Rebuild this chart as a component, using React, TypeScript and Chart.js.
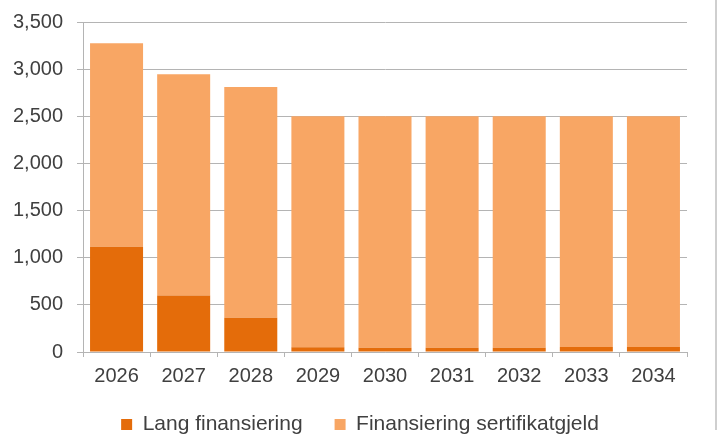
import React, { useEffect, useRef } from "react";
import { Chart, registerables } from "chart.js";

Chart.register(...registerables);

const categories = ["2026", "2027", "2028", "2029", "2030", "2031", "2032", "2033", "2034"];
const langFinansiering = [1117, 600, 364, 50, 46, 46, 46, 53, 53];
const sertifikatgjeld = [2157, 2345, 2446, 2450, 2454, 2454, 2454, 2447, 2447];
const seriesNames = ["Lang finansiering", "Finansiering sertifikatgjeld"];
const yMax = 3500;
const yStep = 500;

const FONT = "'Liberation Sans', Arial, sans-serif";
const TEXT = "#404040";
const GRID = "#b4b4b4";

export default function App() {
  const ref = useRef<HTMLCanvasElement | null>(null);

  useEffect(() => {
    if (!ref.current) return;
    const chart = new Chart(ref.current, {
      type: "bar",
      data: {
        labels: categories,
        datasets: [
          {
            label: seriesNames[0],
            data: langFinansiering,
            backgroundColor: "#E46C0A",
            borderWidth: 0,
            barPercentage: 0.79,
            categoryPercentage: 1,
          },
          {
            label: seriesNames[1],
            data: sertifikatgjeld,
            backgroundColor: "#F8A664",
            borderWidth: 0,
            barPercentage: 0.79,
            categoryPercentage: 1,
          },
        ],
      },
      options: {
        responsive: false,
        animation: false,
        devicePixelRatio: 1,
        layout: { padding: { top: 22, right: 0, left: 0, bottom: 0 } },
        plugins: {
          tooltip: { enabled: false },
          legend: {
            position: "bottom",
            labels: {
              boxWidth: 11,
              boxHeight: 11,
              padding: 32,
              color: TEXT,
              font: { family: FONT, size: 21 },
            },
          },
        },
        scales: {
          x: {
            stacked: true,
            grid: {
              drawOnChartArea: false,
              drawTicks: true,
              tickLength: 5,
              color: GRID,
            },
            border: { color: GRID, width: 1 },
            ticks: {
              color: TEXT,
              padding: 7,
              font: { family: FONT, size: 20 },
              maxRotation: 0,
            },
            afterFit: (s: any) => {
              s.height = 30;
            },
          },
          y: {
            stacked: true,
            min: 0,
            max: yMax,
            grid: { color: GRID, tickLength: 6, lineWidth: 1 },
            border: { color: GRID, width: 1 },
            ticks: {
              stepSize: yStep,
              color: TEXT,
              padding: 14,
              font: { family: FONT, size: 20 },
              callback: (v: any) => Number(v).toLocaleString("en-US"),
            },
            afterFit: (s: any) => {
              s.width = 83;
              s.paddingTop = 0;
              s.paddingBottom = 0;
            },
          },
          spacer: {
            position: "right",
            display: true,
            grid: { display: false, drawTicks: false },
            border: { display: false },
            ticks: { display: false },
            afterFit: (s: any) => {
              s.width = 33;
              s.paddingTop = 0;
              s.paddingBottom = 0;
            },
          },
        },
      },
    });
    return () => chart.destroy();
  }, []);

  return (
    <div
      style={{
        position: "absolute",
        left: 0,
        top: 0,
        width: 720,
        height: 434,
        overflow: "hidden",
        background: "#fff",
      }}
    >
      <canvas ref={ref} width={720} height={445} style={{ display: "block" }} />
      <div
        style={{
          position: "absolute",
          left: 715,
          top: 0,
          width: 2,
          height: 430,
          background: "#cfcfcf",
        }}
      />
    </div>
  );
}
